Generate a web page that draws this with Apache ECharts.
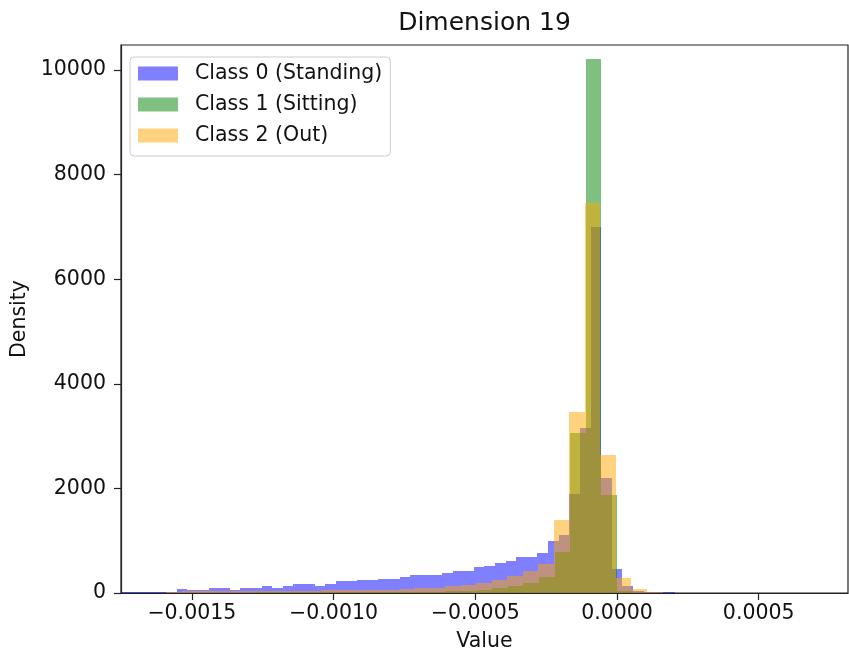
<!DOCTYPE html>
<html><head><meta charset="utf-8">
<script src="https://cdn.jsdelivr.net/npm/echarts@6/dist/echarts.min.js"></script>
<style>html,body{margin:0;padding:0;background:#fff}#c{width:849px;height:657px}</style>
</head><body><div id="c"></div>
<script>
const titleText = 'Dimension 19';
const xAxisName = 'Value';
const yAxisName = 'Density';
const seriesNames = ['Class 0 (Standing)', 'Class 1 (Sitting)', 'Class 2 (Out)'];
const seriesColors = ['rgba(0,0,255,0.5)', 'rgba(0,128,0,0.5)', 'rgba(255,165,0,0.5)'];

const xTickValues = [-0.0015, -0.0010, -0.0005, 0.0000, 0.0005];
const yTickValues = [0, 2000, 4000, 6000, 8000, 10000];

// Class 0 (Standing): first bin edge, bin width, densities left to right
const class0Start = -0.0017778;
const class0BinWidth = 0.00003743;
const class0Density = [
  20, 20, 20, 25, 25, 25, 80, 60, 50, 105,
  105, 55, 100, 95, 130, 89, 127, 166, 166, 134,
  170, 223, 225, 255, 255, 270, 268, 300, 344, 344,
  344, 388, 420, 420, 491, 523, 567, 612, 688, 694,
  771, 990, 1100, 1900, 3150, 7000, 2190, 450, 140, 45,
  20, 15, 10
];

// Class 1 (Sitting)
const class1Start = -0.0017624;
const class1BinWidth = 0.00005508;
const class1Density = [
  3, 3, 5, 5, 6, 6, 8, 8, 9, 10,
  10, 12, 12, 14, 15, 15, 17, 18, 20, 22,
  25, 32, 38, 50, 89, 140, 190, 312, 780, 3053,
  10204, 1874, 30
];

// Class 2 (Out)
const class2Start = -0.0016455;
const class2BinWidth = 0.00005473;
const class2Density = [
  5, 25, 30, 30, 35, 35, 35, 35, 35, 38,
  40, 50, 55, 57, 57, 60, 75, 95, 100, 134,
  160, 190, 240, 330, 430, 560, 1396, 3466, 7463, 2638,
  280, 70, 10
];

function toBins(start, width, dens) {
  return dens.map((d, i) => [start + i * width, start + (i + 1) * width, d]);
}

const binSets = [
  toBins(class0Start, class0BinWidth, class0Density),
  toBins(class1Start, class1BinWidth, class1Density),
  toBins(class2Start, class2BinWidth, class2Density)
];

function renderBar(params, api) {
  const x0 = api.value(0), x1 = api.value(1), h = api.value(2);
  const p0 = api.coord([x0, h]);
  const p1 = api.coord([x1, 0]);
  const l = Math.round(p0[0]), r = Math.round(p1[0]);
  const t = Math.round(p0[1]), b = Math.round(p1[1]);
  const cs = params.coordSys;
  const rect = echarts.graphic.clipRectByRect(
    { x: l, y: t, width: r - l, height: b - t },
    { x: cs.x, y: cs.y, width: cs.width, height: cs.height }
  );
  if (!rect) return null;
  return { type: 'rect', shape: rect, style: { fill: api.visual('color') } };
}

const font = 'DejaVu Sans';
const fs = 20.5;
const chart = echarts.init(document.getElementById('c'), null, { renderer: 'canvas' });
chart.setOption({
  animation: false,
  backgroundColor: '#fff',
  textStyle: { fontFamily: font },
  graphic: [{
    type: 'text', x: 484.5, y: 23,
    style: { text: titleText, font: '25px "DejaVu Sans"', fill: '#111', textAlign: 'center', textVerticalAlign: 'middle' }
  }],
  grid: {
    left: 121, right: 1, top: 45, bottom: 64,
    show: true, borderColor: '#222', borderWidth: 1.2, backgroundColor: 'transparent',
    outerBoundsMode: 'none'
  },
  legend: {
    data: seriesNames,
    orient: 'vertical',
    left: 130, top: 57,
    icon: 'rect',
    itemWidth: 40, itemHeight: 14, itemGap: 10,
    padding: [6, 8, 10, 8],
    backgroundColor: 'rgba(255,255,255,0.8)',
    borderColor: '#cccccc', borderWidth: 1, borderRadius: 4,
    textStyle: { fontFamily: font, fontSize: fs, color: '#111', lineHeight: 21, padding: [0, 0, 0, 12] }
  },
  xAxis: {
    type: 'value', min: -0.00175, max: 0.000815,
    name: xAxisName, nameLocation: 'middle', nameGap: 38,
    nameTextStyle: { fontFamily: font, fontSize: fs, color: '#111' },
    axisLine: { show: true, onZero: false, lineStyle: { color: '#222', width: 1.2 } },
    axisTick: { show: true, length: 7, customValues: xTickValues, lineStyle: { color: '#222', width: 1.2 } },
    axisLabel: {
      customValues: xTickValues, margin: 10, fontFamily: font, fontSize: fs, color: '#111',
      formatter: v => (v < 0 ? '\u2212' : '') + Math.abs(v).toFixed(4)
    },
    splitLine: { show: false }
  },
  yAxis: {
    type: 'value', min: 0, max: 10478,
    name: yAxisName, nameLocation: 'middle', nameGap: 87,
    nameTextStyle: { fontFamily: font, fontSize: fs, color: '#111' },
    axisLine: { show: true, onZero: false, lineStyle: { color: '#222', width: 1.2 } },
    axisTick: { show: true, length: 7, customValues: yTickValues, lineStyle: { color: '#222', width: 1.2 } },
    axisLabel: {
      customValues: yTickValues, margin: 15, fontFamily: font, fontSize: fs, color: '#111',
      formatter: v => String(Math.round(v))
    },
    splitLine: { show: false }
  },
  series: seriesNames.map((name, i) => ({
    name: name,
    type: 'custom',
    renderItem: renderBar,
    itemStyle: { color: seriesColors[i] },
    encode: { x: [0, 1], y: 2 },
    data: binSets[i],
    z: 2 + i
  }))
});
</script>
</body></html>
